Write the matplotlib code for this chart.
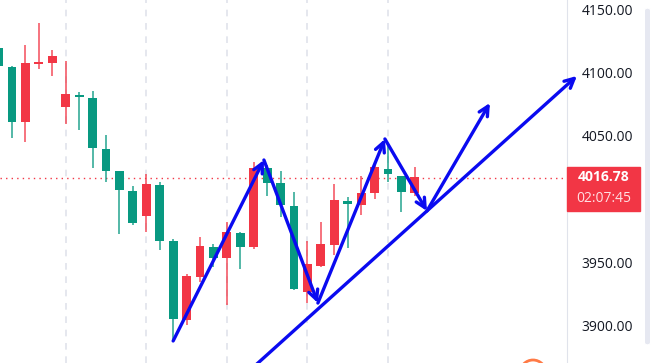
import matplotlib
matplotlib.use("Agg")
import matplotlib.pyplot as plt
from matplotlib.patches import Rectangle, Ellipse, FancyBboxPatch

# candle data (open, high, low, close), one per bar
opens  = [4105.0, 4060.9, 4107.4, 4108.2, 4112.9, 4083.0, 4080.6, 4040.4, 4022.2, 4007.3,
          3981.2, 4012.0, 3967.0, 3905.5, 3939.4, 3963.1, 3953.6, 3974.1, 3962.3, 4024.6,
          4012.8, 3995.4, 3929.2, 3948.9, 3964.7, 3999.4, 3996.2, 4004.9, 4025.4, 4019.9,
          4005.7, 4017.5]
highs  = [4120.0, 4105.0, 4121.6, 4139.0, 4117.7, 4109.0, 4084.5, 4085.3, 4050.6, 4022.5,
          4010.4, 4019.9, 4013.6, 3968.6, 3941.0, 3970.2, 3964.7, 3982.0, 3974.5, 4029.3,
          4027.0, 4022.2, 4005.7, 3967.0, 3982.0, 4012.0, 4001.7, 4018.3, 4027.0, 4044.3,
          4018.5, 4025.4]
lows   = [4104.5, 4048.3, 4045.1, 4102.7, 4097.2, 4059.3, 4054.6, 4024.6, 4013.6, 3972.6,
          3979.7, 3974.1, 3960.0, 3889.0, 3900.8, 3934.7, 3946.5, 3916.6, 3945.0, 3960.7,
          4002.5, 3986.0, 3928.4, 3918.2, 3946.5, 3956.0, 3961.5, 3987.6, 4000.2, 4013.6,
          3989.9, 4002.5]
closes = [4119.2, 4104.3, 4060.9, 4106.6, 4107.4, 4072.7, 4082.2, 4079.8, 4039.6, 4022.2,
          4006.5, 3986.8, 4011.2, 3967.0, 3904.7, 3938.7, 3962.3, 3953.6, 3973.4, 3962.3,
          4024.6, 4012.8, 3994.6, 3926.8, 3947.3, 3963.9, 3998.6, 3995.4, 4004.9, 4023.8,
          4018.3, 4004.9]

last_price = 4016.78
countdown = "02:07:45"
price_ticks = [3900, 3950, 4050, 4100, 4150]
grid_bars = [6, 12, 18, 24, 30]

# hand drawn zigzag (bar index, price)
zig_x = [14.0, 20.76, 24.78, 29.77, 32.90, 37.59]
zig_y = [3888.2, 4030.9, 3918.1, 4047.5, 3990.7, 4075.9]
trend_x = [19.72, 44.07]
trend_y = [3865.1, 4097.2]

UP = "#089981"
DOWN = "#f23645"
W, H = 651, 363

fig = plt.figure(figsize=(W / 100, H / 100), dpi=100)
ax = fig.add_axes([0, 0, 567 / W, 1])
ax.set_xlim(1.1065, 43.33)
ax.set_ylim(3870.8, 4157.1)

for g in grid_bars:
    ax.axvline(g, color="#e0e3eb", lw=1.2, ls=(0, (4, 4)), zorder=0)

xs = list(range(1, len(opens) + 1))
for x, o, h, l, c in zip(xs, opens, highs, lows, closes):
    col = UP if c >= o else DOWN
    ax.vlines(x, l, h, color=col, lw=1.3, alpha=0.75, zorder=2)
    body = max(abs(c - o), 1.8)
    bottom = min(o, c) if abs(c - o) >= 1.8 else (o + c) / 2 - 0.9
    ax.bar(x, body, bottom=bottom, width=0.66, color=col, zorder=3)

ax.axhline(last_price, color=DOWN, lw=1, ls=(0, (1, 3)), zorder=1)

arrow = dict(arrowstyle="->", color="#0a0af0", lw=2.4, shrinkA=0, shrinkB=0,
             mutation_scale=17)
for i in range(len(zig_x) - 1):
    ax.annotate("", xy=(zig_x[i + 1], zig_y[i + 1]), xytext=(zig_x[i], zig_y[i]),
                arrowprops=arrow, annotation_clip=False, zorder=5)
ax.annotate("", xy=(trend_x[1], trend_y[1]), xytext=(trend_x[0], trend_y[0]),
            arrowprops=arrow, annotation_clip=False, zorder=5)

for s in ["top", "left", "bottom"]:
    ax.spines[s].set_visible(False)
ax.spines["right"].set_color("#e0e3eb")
ax.set_xticks([])
ax.yaxis.tick_right()
ax.set_yticks(price_ticks)
ax.set_yticklabels([f"{p:.2f}" for p in price_ticks])
ax.tick_params(axis="y", length=0, pad=47.5, labelsize=10, labelcolor="#131722")
for t in ax.get_yticklabels():
    t.set_horizontalalignment("right")
    t.set_fontfamily("Open Sans")

# last price tag
fig.add_artist(Rectangle((567 / W, 1 - 211 / H), 73 / W, 44 / H,
                         transform=fig.transFigure, color="#f23645", zorder=3))
fig.text(604 / W, 1 - 177 / H, f"{last_price:.2f}", color="white", fontsize=10,
         fontweight="bold", family="Open Sans", ha="center", va="center", zorder=4)
fig.text(604 / W, 1 - 199 / H, countdown, color="#ffe0e3", fontsize=10,
         family="Open Sans", ha="center", va="center", zorder=4)

# right border strip and bottom button
fig.add_artist(FancyBboxPatch((645 / W, 1 - 345 / H), 5 / W, 337 / H,
                              boxstyle="round,pad=0,rounding_size=0.008",
                              transform=fig.transFigure, facecolor="#e6e8f1",
                              edgecolor="none", zorder=3))
fig.add_artist(Ellipse((533 / W, 1 - 373 / H), 26 / W, 26 / H,
                       transform=fig.transFigure, facecolor="white",
                       edgecolor="#ff7a45", lw=2, zorder=3))

fig.savefig("out.png", dpi=100)
